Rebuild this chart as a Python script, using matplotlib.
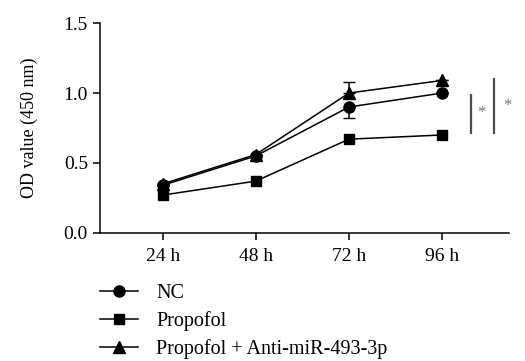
import matplotlib.pyplot as plt
from matplotlib.lines import Line2D

plt.rcParams['font.family'] = ['Liberation Serif', 'DejaVu Serif']

horas = ['24 h', '48 h', '72 h', '96 h']
nc = [0.34, 0.55, 0.90, 1.00]
propofol = [0.27, 0.37, 0.67, 0.70]
anti_mir = [0.35, 0.56, 1.00, 1.09]
# barras de erro visiveis so em 72 h
nc_err_baixo = [0, 0, 0.08, 0]
anti_err_cima = [0, 0, 0.08, 0]

x = list(range(len(horas)))

fig = plt.figure(figsize=(5.25, 3.61), dpi=100)
ax = fig.add_axes([0.19, 0.355, 0.78, 0.581])

ax.errorbar(x, nc, yerr=[nc_err_baixo, [0] * 4], color='black', lw=1.1,
            marker='o', ms=8, capsize=4, elinewidth=1.1)
ax.plot(x, propofol, color='black', lw=1.1, marker='s', ms=7.5)
ax.errorbar(x, anti_mir, yerr=[[0] * 4, anti_err_cima], color='black', lw=1.1,
            marker='^', ms=8, capsize=4, elinewidth=1.1)

# marcas de significancia
ax.plot([3.31, 3.31], [0.714, 0.986], color='0.3', lw=1.6, clip_on=False)
ax.text(3.42, 0.86, '*', color='0.45', fontsize=12, ha='center', va='center')
ax.plot([3.56, 3.56], [0.714, 1.10], color='0.3', lw=1.6, clip_on=False)
ax.text(3.70, 0.91, '*', color='0.45', fontsize=12, ha='center', va='center')

ax.set_xlim(-0.675, 3.72)
ax.set_ylim(0, 1.5)
ax.set_yticks([0, 0.5, 1.0, 1.5])
ax.set_yticklabels(['0.0', '0.5', '1.0', '1.5'])
ax.set_xticks(x)
ax.set_xticklabels(horas)
ax.tick_params(labelsize=14, width=1.1, length=5)
ax.tick_params(axis='x', pad=6)
ax.set_ylabel('OD value (450 nm)', fontsize=13)
ax.yaxis.set_label_coords(-0.15, 0.5)
for lado in ['top', 'right']:
    ax.spines[lado].set_visible(False)
for lado in ['left', 'bottom']:
    ax.spines[lado].set_linewidth(1.1)

alcas = [Line2D([], [], color='black', lw=1.1, marker='o', ms=8),
         Line2D([], [], color='black', lw=1.1, marker='s', ms=7.5),
         Line2D([], [], color='black', lw=1.1, marker='^', ms=8)]
rotulos = ['NC', 'Propofol', 'Propofol + Anti-miR-493-3p']
ax.legend(alcas, rotulos, loc='upper left', bbox_to_anchor=(-0.02, -0.205),
          frameon=False, fontsize=14.5, handlelength=1.9, handletextpad=0.9,
          labelspacing=0.4, borderaxespad=0)

fig.savefig('out.png', dpi=100)
